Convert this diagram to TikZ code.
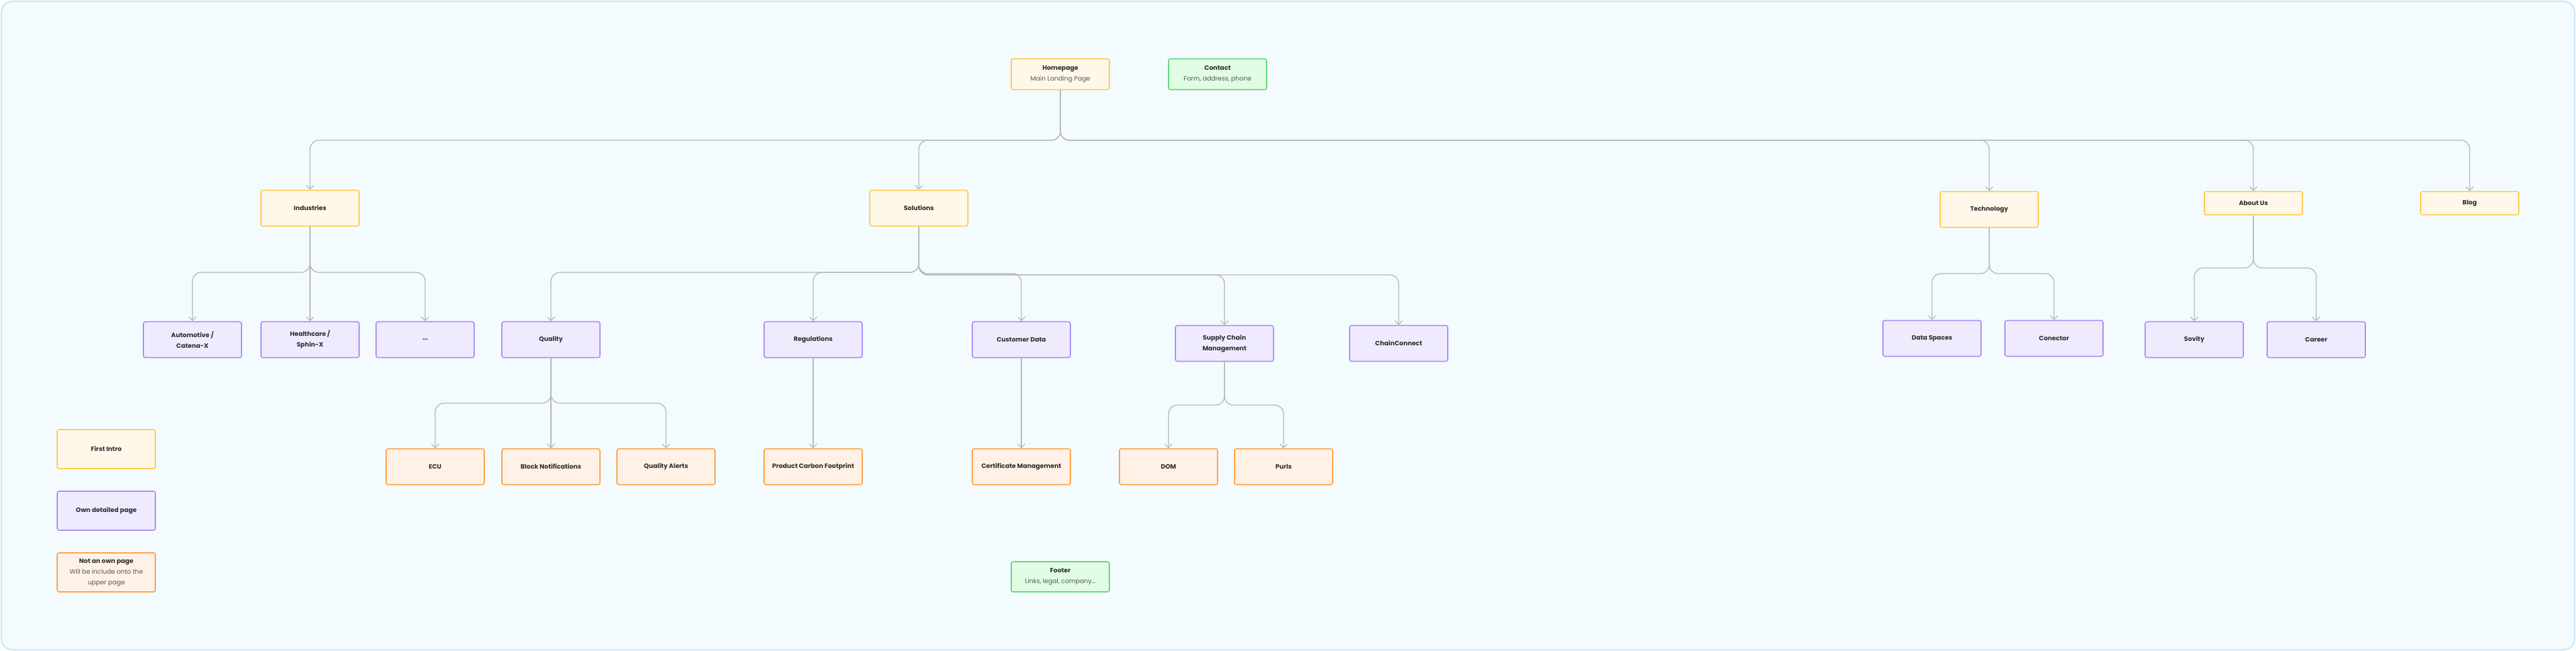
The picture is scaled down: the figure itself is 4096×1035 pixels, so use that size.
\documentclass[tikz,border=0pt]{standalone}
\usepackage{fontspec}
\setmainfont{Poppins}
\usetikzlibrary{arrows.meta}

\definecolor{bgblue}{HTML}{F3FBFE}
\definecolor{frameblue}{HTML}{CBE5F6}
\definecolor{yelfill}{HTML}{FFF8E8}
\definecolor{yeldraw}{HTML}{FFC94A}
\definecolor{purfill}{HTML}{F0EAFF}
\definecolor{purdraw}{HTML}{A98BF8}
\definecolor{orafill}{HTML}{FFF1E5}
\definecolor{oradraw}{HTML}{FF9F43}
\definecolor{grnfill}{HTML}{E0FCE3}
\definecolor{grndraw}{HTML}{63D47C}
\definecolor{linkgray}{HTML}{B4B4B4}
\definecolor{txt}{HTML}{2E2E2E}

\tikzstyle{page}=[draw,rounded corners=3pt,line width=1.6pt,minimum width=156pt,minimum height=57pt,align=center,font=\fontsize{10}{17}\selectfont\bfseries,text=txt,inner sep=2pt]
\tikzstyle{intro}=[page,fill=yelfill,draw=yeldraw]
\tikzstyle{detail}=[page,fill=purfill,draw=purdraw]
\tikzstyle{inline}=[page,fill=orafill,draw=oradraw]
\tikzstyle{extra}=[page,fill=grnfill,draw=grndraw]
\tikzstyle{link}=[draw=linkgray,line width=1.3pt,rounded corners=14pt,-{Straight Barb[length=6pt,width=12pt]}]
\newcommand{\sub}[1]{{\mdseries\color{txt!80}#1}}

\begin{document}
\begin{tikzpicture}[x=1pt,y=-1pt]
  \useasboundingbox (0,0) rectangle (4096,1035);
  \draw[fill=bgblue,draw=frameblue,line width=2pt,rounded corners=18pt] (2,2) rectangle (4094,1033);

  \node (home)[intro,minimum height=49pt] at (1686,118) {Homepage\\\sub{Main Landing Page}};
  \node (contact)[extra,minimum height=49pt] at (1936,118) {Contact\\\sub{Form, address, phone}};

  \node (ind)[intro] at (493,331) {Industries};
  \node (sol)[intro] at (1461,331) {Solutions};
  \node (tech)[intro] at (3163,333) {Technology};
  \node (about)[intro,minimum height=37pt] at (3583,323) {About Us};
  \node (blog)[intro,minimum height=37pt] at (3927,323) {Blog};

  \node (auto)[detail] at (306,540) {Automotive /\\Catena-X};
  \node (health)[detail] at (493,540) {Healthcare /\\Sphin-X};
  \node (more)[detail] at (676,540) {...};
  \node (qual)[detail] at (876,540) {Quality};
  \node (reg)[detail] at (1293,540) {Regulations};
  \node (cust)[detail] at (1624,540) {Customer Data};
  \node (scm)[detail] at (1947,546) {Supply Chain\\Management};
  \node (cc)[detail] at (2224,546) {ChainConnect};
  \node (spaces)[detail] at (3072,538) {Data Spaces};
  \node (conn)[detail] at (3266,538) {Conector};
  \node (sovity)[detail] at (3489,540) {Sovity};
  \node (career)[detail] at (3683,540) {Career};

  \node (ecu)[inline] at (692,742) {ECU};
  \node (block)[inline] at (876,742) {Block Notifications};
  \node (alerts)[inline] at (1059,742) {Quality Alerts};
  \node (pcf)[inline] at (1293,742) {Product Carbon Footprint};
  \node (cert)[inline] at (1624,742) {Certificate Management};
  \node (dom)[inline] at (1858,742) {DOM};
  \node (purls)[inline] at (2041,742) {Purls};

  % legend
  \node (lintro)[intro,minimum height=62pt] at (169,714) {First Intro};
  \node (ldetail)[detail,minimum height=62pt] at (169,812) {Own detailed page};
  \node (linline)[inline,minimum height=62pt] at (169,910) {Not an own page\\\sub{Will be include onto the}\\\sub{upper page}};

  \node (footer)[extra,minimum height=48pt] at (1686,917) {Footer\\\sub{Links, legal, company...}};

  % connectors
  \foreach \t in {ind,sol,tech,about,blog}
    \draw[link] (home.south) -- (home.south |- 0,223) -| (\t.north);
  \foreach \t in {auto,health,more}
    \draw[link] (ind.south) -- (ind.south |- 0,433) -| (\t.north);
  \foreach \t/\y in {qual/433,reg/433,cust/435,scm/437,cc/437}
    \draw[link] (sol.south) -- (sol.south |- 0,\y) -| (\t.north);
  \foreach \t in {ecu,block,alerts}
    \draw[link] (qual.south) -- (qual.south |- 0,641) -| (\t.north);
  \draw[link] (reg) -- (pcf);
  \draw[link] (cust) -- (cert);
  \foreach \t in {dom,purls}
    \draw[link] (scm.south) -- (scm.south |- 0,644) -| (\t.north);
  \foreach \t in {spaces,conn}
    \draw[link] (tech.south) -- (tech.south |- 0,435) -| (\t.north);
  \foreach \t in {sovity,career}
    \draw[link] (about.south) -- (about.south |- 0,426) -| (\t.north);
\end{tikzpicture}
\end{document}
